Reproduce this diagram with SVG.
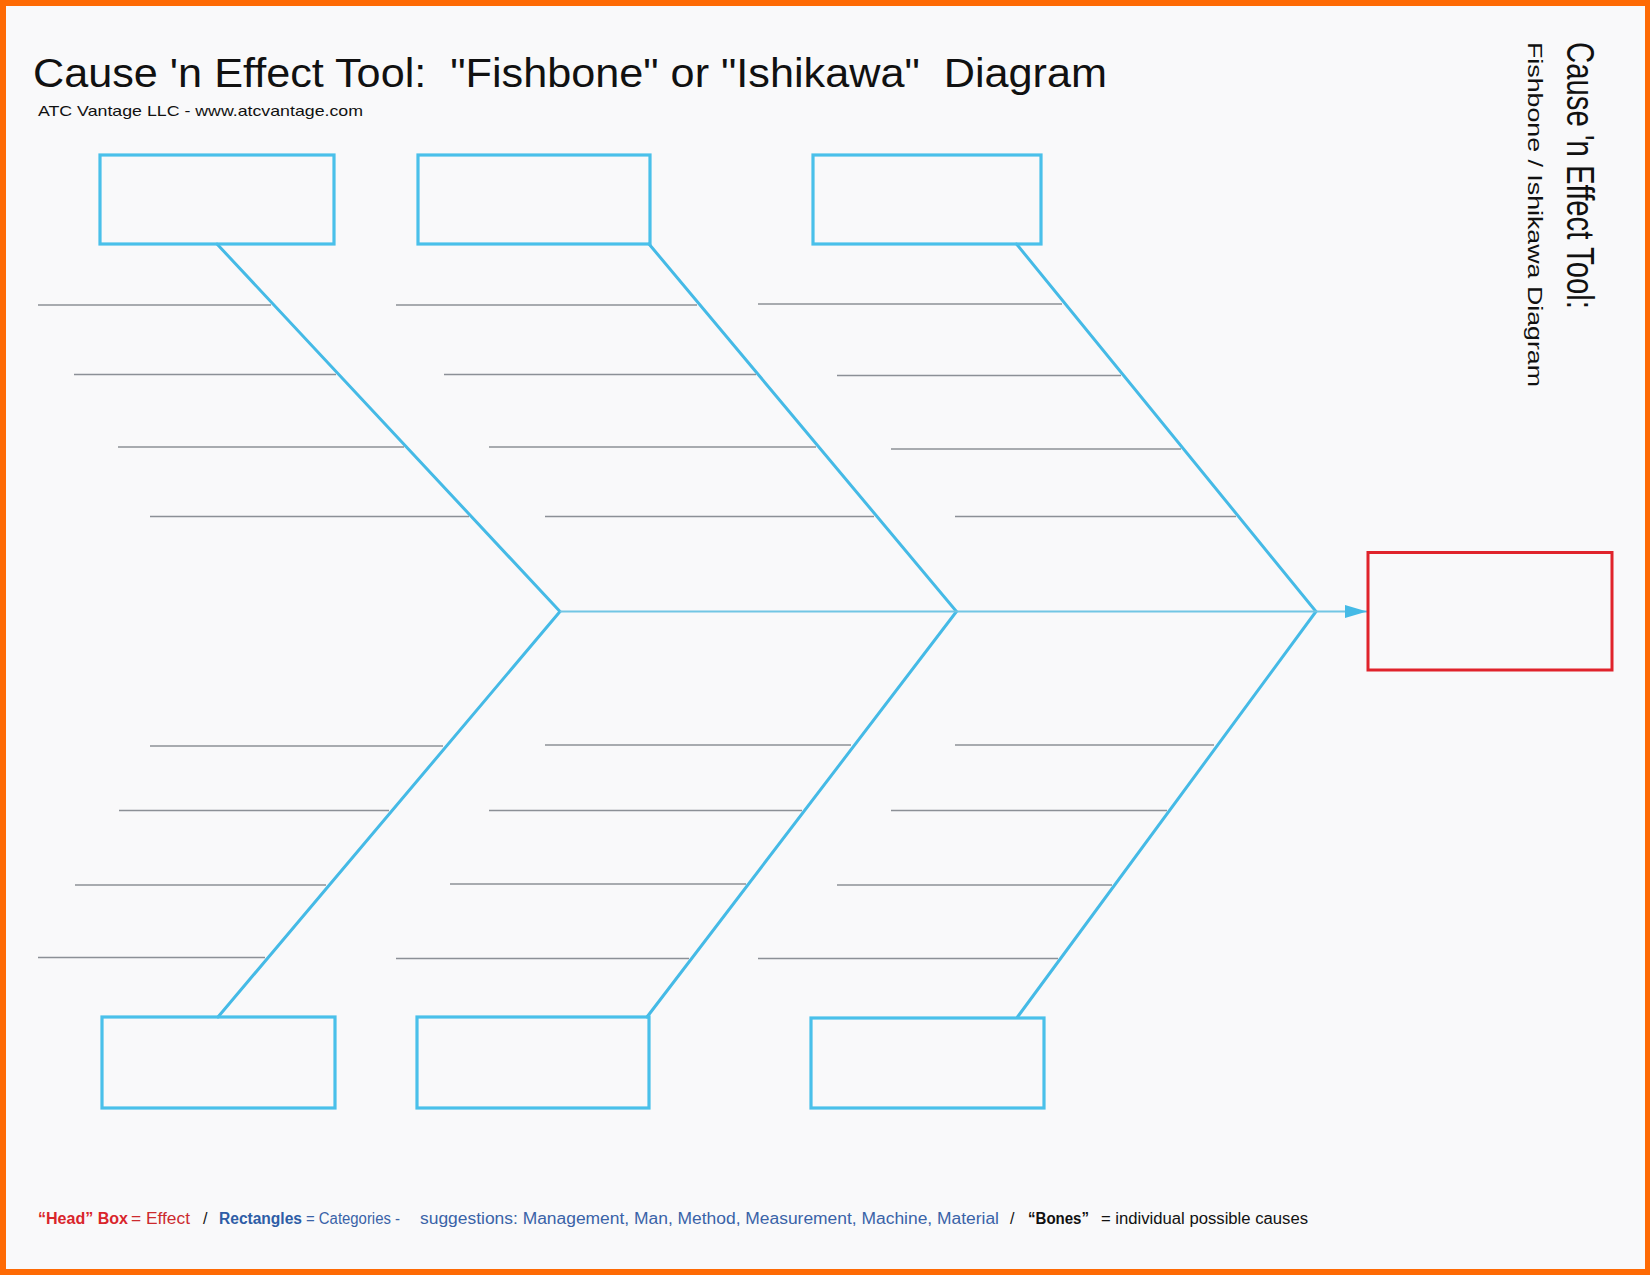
<svg xmlns="http://www.w3.org/2000/svg" width="1650" height="1275" viewBox="0 0 1650 1275">
<style>
.box{fill:none;stroke:#4AC0EA;stroke-width:3.2}
.head{fill:none;stroke:#E0232B;stroke-width:3}
.diag{fill:none;stroke:#45BAE6;stroke-width:3;stroke-linecap:round}
.spine{fill:none;stroke:#72C6E4;stroke-width:2}
.rib{stroke:#8C9096;stroke-width:1.3}
.title{font-family:"Liberation Sans",Arial,sans-serif;fill:#111}
.leg{font-family:"Liberation Sans",Arial,sans-serif;font-size:16px}
</style>
<defs>
<marker id="arrow" viewBox="0 0 10 10" refX="10" refY="5" markerWidth="22" markerHeight="13" markerUnits="userSpaceOnUse" orient="auto" preserveAspectRatio="none">
<path d="M0,0 L10,5 L0,10 z" fill="#45BAE6"/>
</marker>
</defs>
<rect x="0" y="0" width="1650" height="1275" fill="#FE6A04"/>
<rect x="6" y="6" width="1639" height="1263" fill="#F9F9FA"/>

<g id="title">
<text class="title" x="33" y="87" font-size="41" textLength="1074" lengthAdjust="spacingAndGlyphs" xml:space="preserve">Cause 'n Effect Tool:  "Fishbone" or "Ishikawa"  Diagram</text>
<text class="title" x="38" y="116" font-size="14.5" fill="#333" textLength="325" lengthAdjust="spacingAndGlyphs">ATC Vantage LLC - www.atcvantage.com</text>
</g>
<g id="side-title">
<text class="title" transform="translate(1567,42) rotate(90)" font-size="39" textLength="267" lengthAdjust="spacingAndGlyphs">Cause 'n Effect Tool:</text>
<text class="title" transform="translate(1528,42) rotate(90)" font-size="21" textLength="345" lengthAdjust="spacingAndGlyphs">Fishbone / Ishikawa Diagram</text>
</g>

<g id="connectors">
<polyline class="diag" points="217,244 560,611.5 218,1017"/>
<polyline class="diag" points="649,244 956.5,611.5 647,1017"/>
<polyline class="diag" points="1016.5,244 1316,611.5 1017.5,1017"/>
<line class="spine" x1="560" y1="611.5" x2="1367" y2="611.5" marker-end="url(#arrow)"/>
<g id="ribs">
<line class="rib" x1="38" y1="305" x2="271" y2="305"/>
<line class="rib" x1="74" y1="374.5" x2="336" y2="374.5"/>
<line class="rib" x1="118" y1="447" x2="404" y2="447"/>
<line class="rib" x1="150" y1="516.5" x2="469" y2="516.5"/>
<line class="rib" x1="150" y1="746" x2="443" y2="746"/>
<line class="rib" x1="119" y1="810.5" x2="389" y2="810.5"/>
<line class="rib" x1="75" y1="885" x2="326" y2="885"/>
<line class="rib" x1="38" y1="957.5" x2="265" y2="957.5"/>
<line class="rib" x1="396" y1="305" x2="697" y2="305"/>
<line class="rib" x1="444" y1="374.5" x2="756" y2="374.5"/>
<line class="rib" x1="489" y1="447" x2="816" y2="447"/>
<line class="rib" x1="545" y1="516.5" x2="874" y2="516.5"/>
<line class="rib" x1="545" y1="745" x2="851" y2="745"/>
<line class="rib" x1="489" y1="810.5" x2="802" y2="810.5"/>
<line class="rib" x1="450" y1="884" x2="746" y2="884"/>
<line class="rib" x1="396" y1="958.5" x2="689" y2="958.5"/>
<line class="rib" x1="758" y1="304" x2="1062" y2="304"/>
<line class="rib" x1="837" y1="375.5" x2="1121" y2="375.5"/>
<line class="rib" x1="891" y1="449" x2="1181" y2="449"/>
<line class="rib" x1="955" y1="516.5" x2="1236" y2="516.5"/>
<line class="rib" x1="955" y1="745" x2="1214" y2="745"/>
<line class="rib" x1="891" y1="810.5" x2="1167" y2="810.5"/>
<line class="rib" x1="837" y1="885" x2="1112" y2="885"/>
<line class="rib" x1="758" y1="958.5" x2="1058" y2="958.5"/>
</g>
</g>

<g id="cat-top-1"><rect class="box" x="100" y="155" width="234" height="89"/></g>
<g id="cat-top-2"><rect class="box" x="418" y="155" width="232" height="89"/></g>
<g id="cat-top-3"><rect class="box" x="813" y="155" width="228" height="89"/></g>
<g id="cat-bottom-1"><rect class="box" x="102" y="1017" width="233" height="91"/></g>
<g id="cat-bottom-2"><rect class="box" x="417" y="1017" width="232" height="91"/></g>
<g id="cat-bottom-3"><rect class="box" x="811" y="1018" width="233" height="90"/></g>
<g id="head"><rect class="head" x="1368" y="552.5" width="244" height="117.5"/></g>

<g id="legend">
<text class="leg" y="1224">
<tspan x="38" font-weight="bold" fill="#D9252B" textLength="90" lengthAdjust="spacingAndGlyphs">“Head” Box</tspan>
<tspan x="131" fill="#CC2A2E" textLength="59" lengthAdjust="spacingAndGlyphs">= Effect</tspan>
<tspan x="203" fill="#111">/</tspan>
<tspan x="219" font-weight="bold" fill="#2E5DA6" textLength="83" lengthAdjust="spacingAndGlyphs">Rectangles</tspan>
<tspan x="306" fill="#3A63A8" textLength="94" lengthAdjust="spacingAndGlyphs">= Categories -</tspan>
<tspan x="420" fill="#3A63A8" textLength="579" lengthAdjust="spacingAndGlyphs">suggestions: Management, Man, Method, Measurement, Machine, Material</tspan>
<tspan x="1010" fill="#111">/</tspan>
<tspan x="1028" font-weight="bold" fill="#111" textLength="61" lengthAdjust="spacingAndGlyphs">“Bones”</tspan>
<tspan x="1101" fill="#111" textLength="207" lengthAdjust="spacingAndGlyphs">= individual possible causes</tspan>
</text>
</g>
</svg>
